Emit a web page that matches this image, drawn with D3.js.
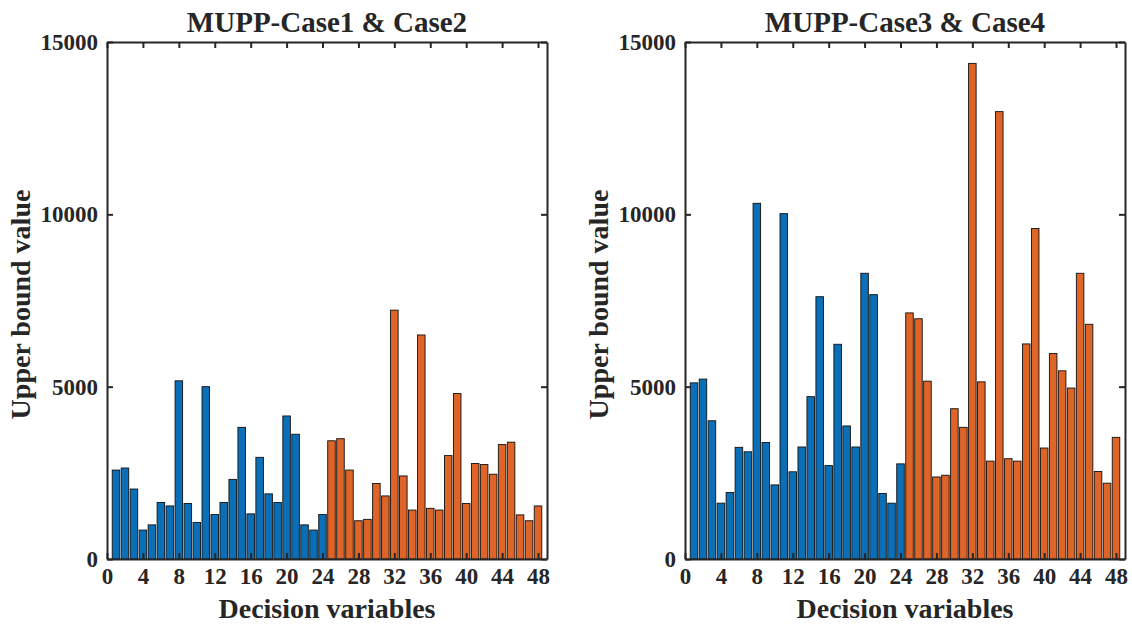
<!DOCTYPE html>
<html>
<head>
<meta charset="utf-8">
<script src="https://cdn.jsdelivr.net/npm/d3@7"></script>
<style>
  body { margin: 0; background: #fff; }
  text { font-family: "Liberation Serif", "DejaVu Serif", serif; font-weight: bold; fill: #262626; }
</style>
</head>
<body>
<div class="chart"></div>
<script>
// decision variables 1..48, first 24 blue, last 24 orange
var case12Blue = [2580, 2640, 2030, 840, 990, 1640, 1540, 5170, 1610, 1060, 5000, 1290,
                  1640, 2310, 3820, 1310, 2950, 1890, 1640, 4150, 3620, 990, 840, 1290];
var case12Orange = [3430, 3490, 2580, 1110, 1150, 2190, 1830, 7220, 2410, 1420, 6500, 1470,
                    1420, 3000, 4800, 1610, 2770, 2740, 2460, 3320, 3390, 1280, 1110, 1540];
var case34Blue = [5110, 5220, 4010, 1620, 1930, 3240, 3110, 10320, 3380, 2150, 10020, 2530,
                  3250, 4710, 7610, 2710, 6230, 3860, 3250, 8290, 7670, 1900, 1620, 2760];
var case34Orange = [7140, 6970, 5160, 2380, 2430, 4360, 3820, 14380, 5140, 2840, 12980, 2910,
                    2840, 6240, 9590, 3220, 5960, 5460, 4960, 8290, 6810, 2540, 2200, 3530];
var titles = ["MUPP-Case1 & Case2", "MUPP-Case3 & Case4"];
var xTicks = d3.range(0, 49, 4);
var yTicks = [0, 5000, 10000, 15000];

var W = 1132, H = 624;
var svg = d3.select(".chart").append("svg")
    .attr("width", W)
    .attr("height", H);

var blue = "#0b6fb8", orange = "#de6428";

function panel(left, blues, oranges, title) {
    var top = 42, bottom = 559, width = 440;
    var x = d3.scaleLinear().domain([0, 49]).range([left, left + width]);
    var y = d3.scaleLinear().domain([0, 15000]).range([bottom, top]);
    var g = svg.append("g");

    var data = blues.map(function(v, i) { return {i: i + 1, v: v, c: blue}; })
        .concat(oranges.map(function(v, i) { return {i: i + 25, v: v, c: orange}; }));
    var bw = x(0.84) - x(0);

    g.selectAll("rect.bar")
        .data(data)
        .enter()
        .append("rect")
        .attr("class", "bar")
        .attr("x", function(d) { return x(d.i) - bw / 2; })
        .attr("y", function(d) { return y(d.v); })
        .attr("width", bw)
        .attr("height", function(d) { return y(0) - y(d.v); })
        .style("fill", function(d) { return d.c; })
        .style("stroke", "#111")
        .style("stroke-width", 0.9);

    // axes, ticks inward on all sides (box on)
    var axB = g.append("g").attr("transform", "translate(0," + bottom + ")")
        .call(d3.axisBottom(x).tickValues(xTicks).tickSizeInner(-6).tickSizeOuter(0).tickPadding(9));
    var axT = g.append("g").attr("transform", "translate(0," + top + ")")
        .call(d3.axisTop(x).tickValues(xTicks).tickSizeInner(-6).tickSizeOuter(0).tickFormat(""));
    var axL = g.append("g").attr("transform", "translate(" + x(0) + ",0)")
        .call(d3.axisLeft(y).tickValues(yTicks).tickSizeInner(-6).tickSizeOuter(0).tickPadding(9)
            .tickFormat(d3.format("d")));
    var axR = g.append("g").attr("transform", "translate(" + x(49) + ",0)")
        .call(d3.axisRight(y).tickValues(yTicks).tickSizeInner(-6).tickSizeOuter(0).tickFormat(""));

    [axB, axT, axL, axR].forEach(function(a) {
        a.select(".domain").style("stroke", "#262626").style("stroke-width", 2);
        a.selectAll(".tick line").style("stroke", "#262626").style("stroke-width", 2);
        a.selectAll("text").style("font-family", "Liberation Serif, serif")
            .style("font-weight", "bold").style("font-size", "23px").style("fill", "#262626");
    });

    g.append("text")
        .attr("x", left + width / 2)
        .attr("y", 32)
        .attr("text-anchor", "middle")
        .style("font-size", "29px")
        .text(title);

    g.append("text")
        .attr("x", left + width / 2)
        .attr("y", 618)
        .attr("text-anchor", "middle")
        .style("font-size", "28px")
        .text("Decision variables");

    g.append("text")
        .attr("transform", "translate(" + (left - 77) + "," + ((top + bottom) / 2 + 4) + ") rotate(-90)")
        .attr("text-anchor", "middle")
        .style("font-size", "28px")
        .text("Upper bound value");
}

panel(107, case12Blue, case12Orange, titles[0]);
panel(685, case34Blue, case34Orange, titles[1]);
</script>
</body>
</html>
